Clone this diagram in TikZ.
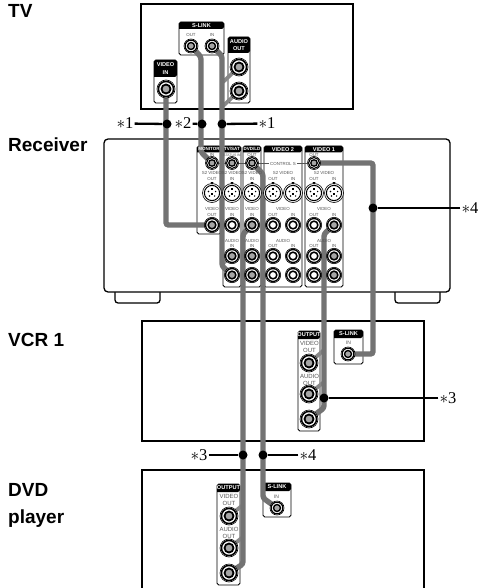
\documentclass[tikz,border=0pt]{standalone}
\usepackage{fontspec}
\setmainfont{Liberation Sans}
\newfontfamily\starfont{Liberation Serif}
\usetikzlibrary{calc}
\pgfdeclarelayer{back}
\pgfdeclarelayer{front}
\pgfsetlayers{back,main,front}
\definecolor{cablegray}{HTML}{737373}
\definecolor{tinygray}{HTML}{555555}
\tikzset{
  unit/.style={draw=black,line width=1.3pt,fill=white},
  panelbox/.style={draw=black,line width=0.8pt,fill=white,rounded corners=1.8pt},
  cable/.style={draw=cablegray,line width=5.4pt,rounded corners=2.5pt},
  stub/.style={draw=cablegray!85,line width=3.8pt},
  leader/.style={draw=black,line width=2.3pt},
  blackdot/.style={circle,fill=black,inner sep=0pt,minimum size=9pt},
  devlabel/.style={font=\bfseries\fontsize{19}{21}\selectfont,anchor=base west,inner sep=0pt},
  starlabel/.style={font=\starfont\fontsize{16.5}{18}\selectfont,inner sep=1pt},
  tiny/.style={font=\fontsize{4.4}{5}\selectfont,text=tinygray,inner sep=0pt},
  tinyb/.style={font=\fontsize{6}{7}\selectfont,text=tinygray,inner sep=0pt},
  hdr/.style={font=\bfseries\fontsize{5.6}{6.6}\selectfont,text=white,inner sep=0pt,align=center},
  hdrsmall/.style={font=\bfseries\fontsize{4.5}{5.4}\selectfont,text=white,inner sep=0pt},
  jackbase/.style={circle,fill=white,draw=black,line width=0.6pt,inner sep=0pt},
  pin/.style={circle,fill=black,inner sep=0pt,minimum size=1.7pt},
}
% panel: x1 y1 x2 y2 header-bottom
\newcommand{\panelshape}[5]{%
  \path[panelbox] (#1,#2) rectangle (#3,#4);
  \fill[black,rounded corners=1.8pt] (#1,#5) -- (#1,#2) -- (#3,#2) -- (#3,#5) [sharp corners] -- cycle;
}
% rca jack: name x y radius core colour
\newcommand{\rcajack}[5]{%
  \node[jackbase,minimum size=#4*2pt] (#1) at (#2,#3) {};
  \draw[black,line width=#4*0.17pt] (#2,#3) circle[radius=#4*0.84];
  \draw[black,line width=#4*0.2pt,fill=#5] (#2,#3) circle[radius=#4*0.5];
}
% S-video jack: name x y core
\newcommand{\svjack}[3]{%
  \node[jackbase,minimum size=19pt] (#1) at (#2,#3) {};
  \draw[black,line width=1pt] (#2,#3) circle[radius=7.6];
  \node[pin] (#1p) at (#2-3.6,#3-1.5) {};
  \node[pin] (#1q) at (#2+3.6,#3-1.5) {};
  \node[pin] (#1r) at (#2-2.6,#3+3) {};
  \node[pin] (#1s) at (#2+2.6,#3+3) {};
  \fill[black] (#2-1.3,#3-4.6) rectangle (#2+1.3,#3-3);
  \fill[black] (#2-1,#3-0.5) rectangle (#2+1,#3+1.5);
}
\begin{document}
\begin{tikzpicture}[x=1pt,y=-1pt]
\useasboundingbox (0,0) rectangle (484,588);

% ---------- device labels
\node[devlabel] (lTV) at (8,18) {TV};
\node[devlabel] (lRec) at (8,152) {Receiver};
\node[devlabel] (lVCR) at (8,346) {VCR 1};
\node[devlabel] (lDVD) at (8,496) {DVD};
\node[devlabel] (lPlayer) at (8,523) {player};

\begin{pgfonlayer}{back}
% ---------- units
\path[unit] (141,4) rectangle (353,109);
\path[unit,rounded corners=3pt] (115,285) -- (115,303) -- (160,303) -- (160,285);
\path[unit,rounded corners=3pt] (395,285) -- (395,303) -- (440,303) -- (440,285);
\path[unit,rounded corners=4pt] (104,139) rectangle (450,292);
\path[unit] (142,321) rectangle (424,441);
\path[draw=black,line width=1.3pt] (142,588) -- (142,470) -- (424,470) -- (424,588);

% ---------- TV panels
\panelshape{179}{22}{224}{55}{29}
\panelshape{228}{37}{250}{103}{53}
\panelshape{154}{60}{177}{103}{77}
% ---------- Receiver panels
\panelshape{197}{146}{221}{234}{152.5}
\panelshape{223}{146}{241}{287}{152.5}
\panelshape{243}{146}{261}{287}{152.5}
\panelshape{264}{146}{302}{287}{152.5}
\panelshape{305}{146}{343}{287}{152.5}
% ---------- VCR panels
\panelshape{298}{331}{320}{431}{339}
\panelshape{334}{330}{363}{364}{338}
% ---------- DVD panels
\panelshape{217}{484}{240}{585}{492}
\panelshape{263}{483}{291}{517}{491}
\end{pgfonlayer}

% ---------- jacks
\begin{pgfonlayer}{front}
\rcajack{tvSout}{191}{46}{7}{gray!70}
\rcajack{tvSin}{212}{46}{7}{gray!70}
\rcajack{tvAa}{239}{67}{9}{gray!70}
\rcajack{tvAb}{239}{91}{9}{gray!70}
\rcajack{tvV}{166}{89}{9}{gray!70}

\rcajack{monCtl}{212}{163}{6.5}{gray!70}
\rcajack{tsCtl}{232}{163}{6.5}{gray!70}
\rcajack{dvCtl}{252}{163}{6.5}{gray!70}
\rcajack{v1Ctl}{314}{163}{6.5}{gray!70}

\svjack{monS}{212}{193}
\svjack{tsS}{232}{193}
\svjack{dvS}{252}{193}
\svjack{vbSo}{273}{193}
\svjack{vbSi}{293}{193}
\svjack{vaSo}{314}{193}
\svjack{vaSi}{334}{193}

\rcajack{monV}{212}{225}{7.7}{gray!70}
\rcajack{tsV}{232}{225}{7.7}{white}
\rcajack{dvV}{252}{225}{7.7}{gray!70}
\rcajack{vbVo}{273}{225}{7.7}{white}
\rcajack{vbVi}{293}{225}{7.7}{white}
\rcajack{vaVo}{314}{225}{7.7}{white}
\rcajack{vaVi}{334}{225}{7.7}{gray!70}

\rcajack{tsAa}{232}{256}{7.7}{gray!70}
\rcajack{dvAa}{252}{256}{7.7}{gray!70}
\rcajack{vbAa}{273}{256}{7.7}{white}
\rcajack{vbAb}{293}{256}{7.7}{white}
\rcajack{vaAa}{314}{256}{7.7}{white}
\rcajack{vaAb}{334}{256}{7.7}{gray!70}

\rcajack{tsAb}{232}{275}{7.7}{gray!70}
\rcajack{dvAb}{252}{275}{7.7}{gray!70}
\rcajack{vbAc}{273}{275}{7.7}{white}
\rcajack{vbAd}{293}{275}{7.7}{white}
\rcajack{vaAc}{314}{275}{7.7}{white}
\rcajack{vaAd}{334}{275}{7.7}{gray!70}

\rcajack{vcrV}{309}{363}{9}{gray!70}
\rcajack{vcrAa}{309}{394}{9}{gray!70}
\rcajack{vcrAb}{309}{419}{9}{gray!70}
\rcajack{vcrS}{348}{354}{7}{gray!70}

\rcajack{dvdV}{229}{516}{9}{gray!70}
\rcajack{dvdAa}{229}{548}{9}{gray!70}
\rcajack{dvdAb}{229}{573}{9}{gray!70}
\rcajack{dvdS}{277}{508}{7}{gray!70}

% ---------- texts in the panels
\node[hdr] (t1) at (201.5,25.7) {S-LINK};
\node[tiny] (t2) at (191,35) {OUT};
\node[tiny] (t3) at (212,35) {IN};
\node[hdr] (t4) at (239,45) {AUDIO\\[1pt]OUT};
\node[hdr] (t5) at (165.5,68.5) {VIDEO\\[1pt]IN};

\node[hdrsmall] (r1) at (209,149.3) {MONITOR};
\node[hdrsmall] (r2) at (232,149.3) {TV/SAT};
\node[hdrsmall] (r3) at (252,149.3) {DVD/LD};
\node[hdr] (r4) at (283,149.3) {VIDEO 2};
\node[hdr] (r5) at (324,149.3) {VIDEO 1};
\node[tiny] (m1) at (212,155) {IN};
\node[tiny,font=\fontsize{3.4}{4}\selectfont] (m2) at (232,155) {STATUS IN};
\node[tiny] (m3) at (252,155) {OUT};
\node[tiny] (m4) at (314,155) {OUT};
\foreach \n/\x in {a/212,b/232,c/252,d/283,e/324}{\node[tiny] (s\n) at (\x,173) {S2 VIDEO};}
\foreach \n/\x/\t in {a/212/OUT,b/232/IN,c/252/IN,d/273/OUT,e/293/IN,f/314/OUT,g/334/IN}{
  \node[tiny] (o\n) at (\x,178.5) {\t};
  \fill[black] (\x-1.5,182) -- (\x+1.5,182) -- (\x,184.5) -- cycle;
}
\foreach \n/\x in {a/212,b/232,c/252,d/283,e/324}{\node[tiny] (v\n) at (\x,209) {VIDEO};}
\foreach \n/\x/\t in {a/212/OUT,b/232/IN,c/252/IN,d/273/OUT,e/293/IN,f/314/OUT,g/334/IN}{\node[tiny] (w\n) at (\x,215) {\t};}
\foreach \n/\x in {b/232,c/252}{\node[tiny] (u\n) at (\x,240.5) {AUDIO};\node[tiny] (x\n) at (\x,246) {IN};}
\foreach \n/\x in {d/283,e/324}{\node[tiny] (u\n) at (\x,240.5) {AUDIO};}
\foreach \n/\x/\t in {d/273/OUT,e/293/IN,f/314/OUT,g/334/IN}{\node[tiny] (x\n) at (\x,246) {\t};}

\node[hdr] (q1) at (309,335) {OUTPUT};
\node[hdr] (q2) at (348.5,334) {S-LINK};
\node[tinyb,align=center] (q3) at (309.5,346.5) {VIDEO\\OUT};
\node[tinyb,align=center] (q4) at (309.5,380) {AUDIO\\OUT};
\node[tiny,font=\fontsize{5}{6}\selectfont] (q5) at (348.5,343) {IN};

\node[hdr] (p1) at (228.5,488) {OUTPUT};
\node[hdr] (p2) at (277,487) {S-LINK};
\node[tinyb,align=center] (p3) at (229,500) {VIDEO\\OUT};
\node[tinyb,align=center] (p4) at (229,533) {AUDIO\\OUT};
\node[tiny,font=\fontsize{5}{6}\selectfont] (p5) at (276.5,497) {IN};
\end{pgfonlayer}

% ---------- cables
\path[draw=tinygray,line width=0.9pt] (monCtl) -- (v1Ctl);
\node[tiny,fill=white,inner xsep=1pt] (ctl) at (283,163.5) {CONTROL S};

\path[cable] (tvV.center) |- (monV.center);
\path[cable] (tvSout.center) -- (201,57) -- (201,152) -- (monCtl.center);
\path[stub] (tvAa.center) -- (223,82);
\path[stub] (tvAb.center) -- (223,106);
\path[stub] (tsAa.center) -- (222,264);
\path[cable] (tvSin.center) -- (222,56) -- (222,266) -- (tsAb.center);
\path[stub] (dvdV.center) -- (243,505);
\path[stub] (dvdAa.center) -- (243,537);
\path[cable] (dvV.center) -- (243,234) -- (243,564) -- (dvdAb.center);
\path[cable] (dvCtl.center) -- (263,174) -- (263,498) -- (dvdS.center);
\path[stub] (vcrV.center) -- (324,350);
\path[stub] (vcrAa.center) -- (324,382);
\path[cable] (vaVi.center) -- (324,234) -- (324,408) -- (vcrAb.center);
\path[cable] (v1Ctl.center) -- (373,163) -- (373,354) -- (vcrS.center);

% ---------- leaders
\node[blackdot] (d1) at (167,124) {};
\node[blackdot] (d2) at (202,124) {};
\node[blackdot] (d3) at (222,124) {};
\node[starlabel] (k1) at (125,123.5) {$\ast$1};
\node[starlabel] (k2) at (183,123.5) {$\ast$2};
\node[starlabel] (k3) at (267,123.5) {$\ast$1};
\draw[leader] (k1) -- (d1);
\draw[leader] (k2) -- (d2);
\draw[leader] (k3) -- (d3);

\node[blackdot] (d4) at (373,208) {};
\node[starlabel] (k4) at (470,208) {$\ast$4};
\draw[leader] (k4) -- (d4);

\node[blackdot] (d5) at (324,398) {};
\node[starlabel] (k5) at (448,398) {$\ast$3};
\draw[leader] (k5) -- (d5);

\node[blackdot] (d6) at (243,455) {};
\node[starlabel] (k6) at (199,455) {$\ast$3};
\draw[leader] (k6) -- (d6);

\node[blackdot] (d7) at (263,455) {};
\node[starlabel] (k7) at (308,455) {$\ast$4};
\draw[leader] (k7) -- (d7);
\end{tikzpicture}
\end{document}
